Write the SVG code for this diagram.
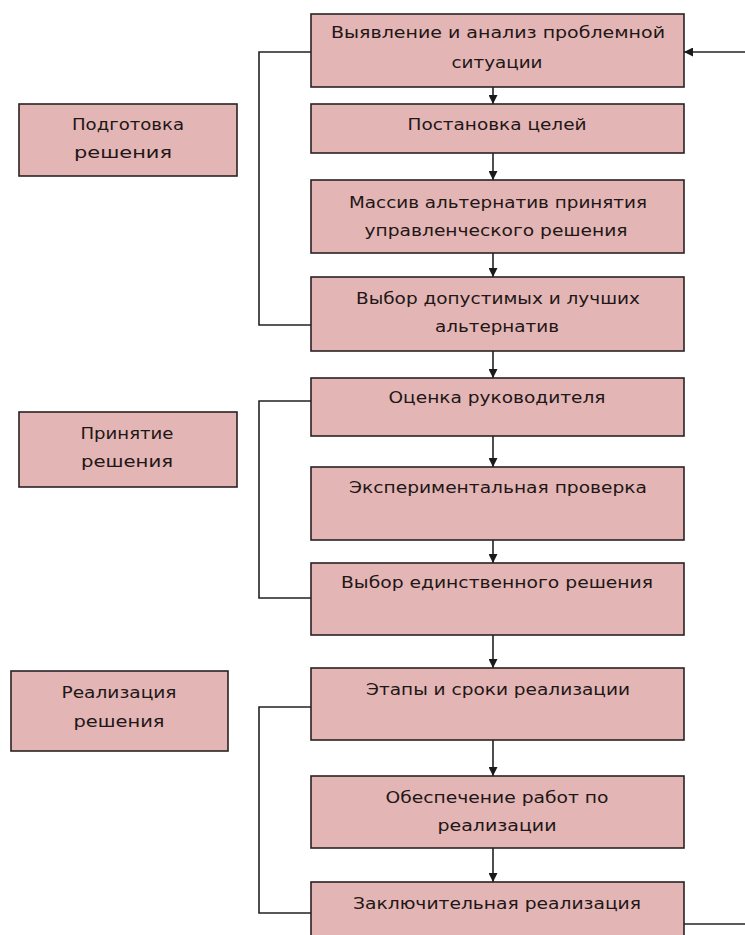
<svg xmlns="http://www.w3.org/2000/svg" width="745" height="935" viewBox="0 0 745 935">
<defs>
<style>
.box{fill:#e3b5b5;stroke:#2b2222;stroke-width:1.6}
.t{font-family:"DejaVu Sans",sans-serif;font-size:15.5px;fill:#221616;text-anchor:middle}
.ln{fill:none;stroke:#222;stroke-width:1.6}
</style>
<marker id="ah" viewBox="0 0 10 10" refX="10" refY="5" markerWidth="9" markerHeight="9" markerUnits="userSpaceOnUse" orient="auto">
<path d="M0,0 L10,5 L0,10 Z" fill="#1a1a1a"/>
</marker>
</defs>
<rect width="745" height="935" fill="#ffffff"/>
<g id="connectors">
<line class="ln" x1="493" y1="82" x2="493" y2="104" marker-end="url(#ah)"/>
<line class="ln" x1="493" y1="153" x2="493" y2="180" marker-end="url(#ah)"/>
<line class="ln" x1="493" y1="253" x2="493" y2="277" marker-end="url(#ah)"/>
<line class="ln" x1="493" y1="351" x2="493" y2="378" marker-end="url(#ah)"/>
<line class="ln" x1="493" y1="436" x2="493" y2="467" marker-end="url(#ah)"/>
<line class="ln" x1="493" y1="540" x2="493" y2="563" marker-end="url(#ah)"/>
<line class="ln" x1="493" y1="635" x2="493" y2="668" marker-end="url(#ah)"/>
<line class="ln" x1="493" y1="740" x2="493" y2="776" marker-end="url(#ah)"/>
<line class="ln" x1="493" y1="848" x2="493" y2="882" marker-end="url(#ah)"/>
<line class="ln" x1="745" y1="52" x2="684" y2="52" marker-end="url(#ah)"/>
<line class="ln" x1="684" y1="924" x2="745" y2="924"/>
<polyline class="ln" points="311,52 259,52 259,325 311,325"/>
<polyline class="ln" points="311,401 259,401 259,598 311,598"/>
<polyline class="ln" points="311,707 259,707 259,913 311,913"/>
</g>
<g id="label1"><rect class="box" x="19" y="104" width="218" height="72"/>
<text class="t" x="128" y="130" textLength="112" lengthAdjust="spacingAndGlyphs">Подготовка</text>
<text class="t" x="123" y="158" textLength="98" lengthAdjust="spacingAndGlyphs">решения</text></g>
<g id="label2"><rect class="box" x="19" y="412" width="218" height="75"/>
<text class="t" x="127" y="439" textLength="93" lengthAdjust="spacingAndGlyphs">Принятие</text>
<text class="t" x="127" y="467" textLength="92" lengthAdjust="spacingAndGlyphs">решения</text></g>
<g id="label3"><rect class="box" x="11" y="671" width="217" height="80"/>
<text class="t" x="119" y="698" textLength="115" lengthAdjust="spacingAndGlyphs">Реализация</text>
<text class="t" x="119" y="727" textLength="91" lengthAdjust="spacingAndGlyphs">решения</text></g>
<g id="n1"><rect class="box" x="311" y="14" width="373" height="73"/>
<text class="t" x="498" y="38" textLength="334" lengthAdjust="spacingAndGlyphs">Выявление и анализ проблемной</text>
<text class="t" x="497" y="68" textLength="91" lengthAdjust="spacingAndGlyphs">ситуации</text></g>
<g id="n2"><rect class="box" x="311" y="104" width="373" height="49"/>
<text class="t" x="497" y="130" textLength="179" lengthAdjust="spacingAndGlyphs">Постановка целей</text></g>
<g id="n3"><rect class="box" x="311" y="180" width="373" height="73"/>
<text class="t" x="498" y="208" textLength="298" lengthAdjust="spacingAndGlyphs">Массив альтернатив принятия</text>
<text class="t" x="496" y="236" textLength="263" lengthAdjust="spacingAndGlyphs">управленческого решения</text></g>
<g id="n4"><rect class="box" x="311" y="277" width="373" height="74"/>
<text class="t" x="498" y="304" textLength="284" lengthAdjust="spacingAndGlyphs">Выбор допустимых и лучших</text>
<text class="t" x="497" y="332" textLength="124" lengthAdjust="spacingAndGlyphs">альтернатив</text></g>
<g id="n5"><rect class="box" x="311" y="378" width="373" height="58"/>
<text class="t" x="497" y="403" textLength="217" lengthAdjust="spacingAndGlyphs">Оценка руководителя</text></g>
<g id="n6"><rect class="box" x="311" y="467" width="373" height="73"/>
<text class="t" x="498" y="493" textLength="298" lengthAdjust="spacingAndGlyphs">Экспериментальная проверка</text></g>
<g id="n7"><rect class="box" x="311" y="563" width="373" height="72"/>
<text class="t" x="497" y="588" textLength="312" lengthAdjust="spacingAndGlyphs">Выбор единственного решения</text></g>
<g id="n8"><rect class="box" x="311" y="668" width="373" height="72"/>
<text class="t" x="498" y="695" textLength="264" lengthAdjust="spacingAndGlyphs">Этапы и сроки реализации</text></g>
<g id="n9"><rect class="box" x="311" y="776" width="373" height="72"/>
<text class="t" x="497" y="803" textLength="223" lengthAdjust="spacingAndGlyphs">Обеспечение работ по</text>
<text class="t" x="497" y="831" textLength="119" lengthAdjust="spacingAndGlyphs">реализации</text></g>
<g id="n10"><rect class="box" x="311" y="882" width="373" height="70"/>
<text class="t" x="497" y="909" textLength="288" lengthAdjust="spacingAndGlyphs">Заключительная реализация</text></g>
</svg>
